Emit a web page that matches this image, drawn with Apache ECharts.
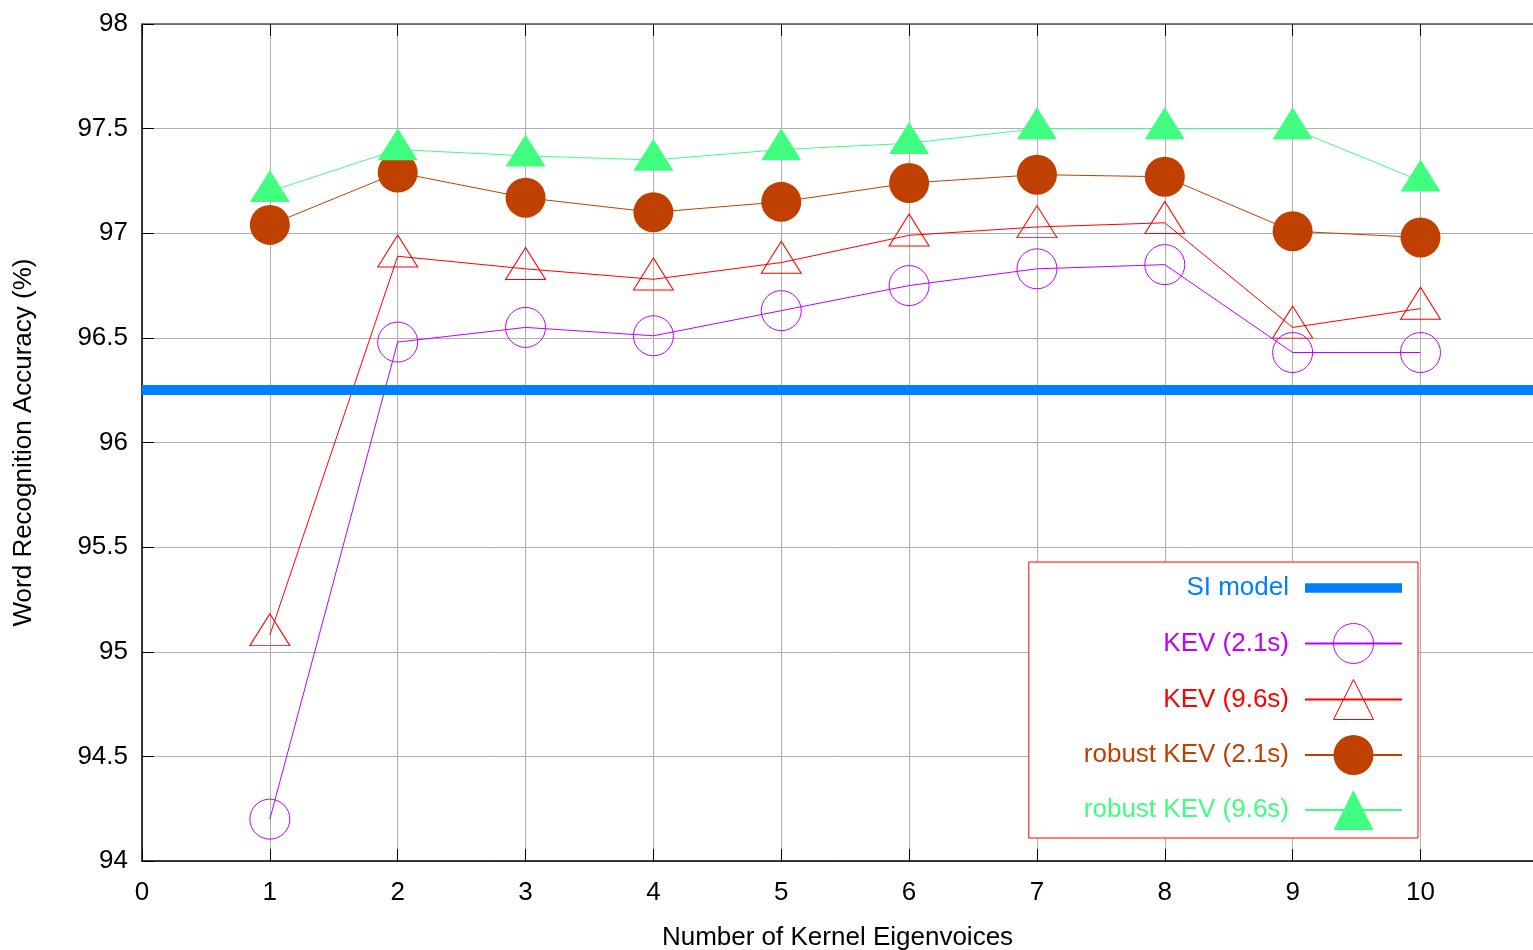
<!DOCTYPE html>
<html>
<head>
<meta charset="utf-8">
<script src="https://cdn.jsdelivr.net/npm/echarts@6/dist/echarts.min.js"></script>
<style>
  html, body { margin: 0; padding: 0; background: #fff; }
  #chart { width: 1533px; height: 950px; }
</style>
</head>
<body>
<div id="chart"></div>
<script>
// number of kernel eigenvoices
const eigenvoices = [1, 2, 3, 4, 5, 6, 7, 8, 9, 10];

// word recognition accuracy (%)
const kev21 = [94.20, 96.48, 96.55, 96.51, 96.63, 96.75, 96.83, 96.85, 96.43, 96.43];
const kev96 = [95.08, 96.89, 96.83, 96.78, 96.86, 96.99, 97.03, 97.05, 96.55, 96.64];
const robust21 = [97.04, 97.29, 97.17, 97.10, 97.15, 97.24, 97.28, 97.27, 97.01, 96.98];
const robust96 = [97.20, 97.40, 97.37, 97.35, 97.40, 97.43, 97.50, 97.50, 97.50, 97.25];
const siModel = 96.25;

const xMin = 0, xMax = 10.88;
const yMin = 94, yMax = 98;

const FONT = "'Liberation Sans', Arial, sans-serif";

const pairs = (vals) => eigenvoices.map((x, i) => [x, vals[i]]);

const chart = echarts.init(document.getElementById('chart'));

// triangle point sits on the centroid, not the box centre
const triSize = [40, 32];
const triOffset = [0, -triSize[1] / 6];

const option = {
  animation: false,
  backgroundColor: '#fff',
  textStyle: { fontFamily: FONT },
  grid: { left: 142, right: 0, top: 24, bottom: 89, outerBoundsMode: 'none' },
  xAxis: [
    {
      type: 'value',
      min: xMin,
      max: xMax,
      interval: 1,
      name: 'Number of Kernel Eigenvoices',
      nameLocation: 'middle',
      nameGap: 64,
      nameTextStyle: { fontSize: 26, color: '#000', fontFamily: FONT },
      axisLine: { lineStyle: { color: '#000', width: 1.5 } },
      axisTick: { inside: true, length: 12, lineStyle: { color: '#000' } },
      axisLabel: { fontSize: 26, color: '#000', margin: 19, showMaxLabel: false, fontFamily: FONT },
      splitLine: { show: true, lineStyle: { color: '#b0b0b0', width: 1 } },
    },
    {
      type: 'value',
      position: 'top',
      min: xMin,
      max: xMax,
      interval: 1,
      axisLine: { lineStyle: { color: '#555', width: 1.5 } },
      axisTick: { inside: true, length: 12, lineStyle: { color: '#000' } },
      axisLabel: { show: false },
      splitLine: { show: false },
    },
  ],
  yAxis: {
    type: 'value',
    min: yMin,
    max: yMax,
    interval: 0.5,
    name: 'Word Recognition Accuracy (%)',
    nameLocation: 'middle',
    nameRotate: 90,
    nameGap: 105,
    nameTextStyle: { fontSize: 26, color: '#000', fontFamily: FONT },
    axisLine: { show: true, lineStyle: { color: '#000', width: 1.5 } },
    axisTick: { show: true, inside: true, length: 12, lineStyle: { color: '#000' } },
    axisLabel: { fontSize: 26, color: '#000', margin: 14, fontFamily: FONT },
    splitLine: { show: true, lineStyle: { color: '#b0b0b0', width: 1 } },
  },
  legend: {
    orient: 'vertical',
    right: 115,
    top: 562,
    align: 'right',
    itemWidth: 97,
    itemHeight: 50,
    itemGap: 15,
    padding: [6, 15, 8, 55],
    backgroundColor: '#fff',
    borderColor: '#ff0000',
    borderWidth: 1,
    borderRadius: 0,
    itemStyle: { borderWidth: 1 },
    textStyle: { fontSize: 26, lineHeight: 40, fontFamily: FONT, padding: [0, 11, 0, 0] },
    data: [
      { name: 'SI model', icon: 'path://M0,0H100V10H0Z', textStyle: { color: '#0080ff' } },
      { name: 'KEV (2.1s)', textStyle: { color: '#c000ff' } },
      { name: 'KEV (9.6s)', textStyle: { color: '#ff0000' } },
      { name: 'robust KEV (2.1s)', textStyle: { color: '#c04000' } },
      { name: 'robust KEV (9.6s)', textStyle: { color: '#40ff80' } },
    ],
  },
  series: [
    {
      name: 'SI model',
      type: 'line',
      data: [],
      z: 1,
      itemStyle: { color: '#0080ff' },
      lineStyle: { color: '#0080ff', width: 10 },
      markLine: {
        silent: true,
        symbol: 'none',
        label: { show: false },
        lineStyle: { color: '#0080ff', width: 10, type: 'solid' },
        data: [{ yAxis: siModel }],
      },
    },
    {
      name: 'KEV (2.1s)',
      type: 'line',
      data: pairs(kev21),
      symbol: 'circle',
      symbolSize: 40,
      itemStyle: { color: 'transparent', borderColor: '#c000ff', borderWidth: 1 },
      lineStyle: { color: '#c000ff', width: 1 },
    },
    {
      name: 'KEV (9.6s)',
      type: 'line',
      data: pairs(kev96),
      symbol: 'triangle',
      symbolSize: triSize,
      symbolOffset: triOffset,
      itemStyle: { color: 'transparent', borderColor: '#ff0000', borderWidth: 1 },
      lineStyle: { color: '#ff0000', width: 1 },
    },
    {
      name: 'robust KEV (2.1s)',
      type: 'line',
      data: pairs(robust21),
      symbol: 'circle',
      symbolSize: 40,
      itemStyle: { color: '#c04000' },
      lineStyle: { color: '#c04000', width: 1 },
    },
    {
      name: 'robust KEV (9.6s)',
      type: 'line',
      data: pairs(robust96),
      symbol: 'triangle',
      symbolSize: triSize,
      symbolOffset: triOffset,
      itemStyle: { color: '#40ff80' },
      lineStyle: { color: '#40ff80', width: 1 },
    },
  ],
};

chart.setOption(option);
</script>
</body>
</html>
